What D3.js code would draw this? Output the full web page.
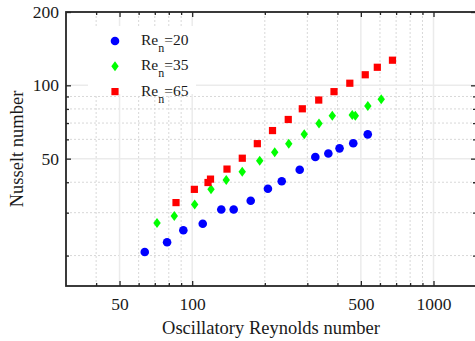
<!DOCTYPE html>
<html>
<head>
<meta charset="utf-8">
<script src="https://cdn.jsdelivr.net/npm/d3@7"></script>
<style>
  body { margin: 0; background: #fff; }
  svg { display: block; font-family: "Liberation Serif", "Times New Roman", serif; }
</style>
</head>
<body>
<div id="chart"></div>
<script>
// Données
const re20X = [63.6, 78.7, 91.9, 110.6, 132, 148.6, 174.8, 206, 235, 279, 323.8, 366.6, 408, 465, 534];
const re20Y = [20.7, 22.7, 25.4, 27.0, 30.9, 30.9, 33.6, 37.6, 40.4, 45.0, 50.8, 52.5, 55.1, 57.8, 62.9];
const re35X = [71.5, 84.3, 102.4, 119.7, 138.4, 161.2, 190.5, 219.8, 251.3, 291.3, 335.4, 380.7, 460.5, 474.3, 534.4, 607.2];
const re35Y = [27.2, 29.1, 32.4, 37.4, 40.9, 44.2, 49.0, 53.1, 57.6, 62.9, 69.7, 75.0, 75.5, 75.0, 82.2, 87.6];
const re65X = [85.7, 102.1, 116.3, 119.1, 139.4, 161.3, 186.2, 215.2, 250.1, 286, 334.5, 387, 450, 521.4, 585, 676];
const re65Y = [33.0, 37.4, 39.9, 41.2, 45.3, 50.2, 57.6, 65.2, 72.4, 80.1, 87.0, 94.2, 102, 110.5, 118.6, 126.8];

const legendValues = ["20", "35", "65"];
const xMajorTicks = [50, 100, 500, 1000];
const xMinorTicks = [40, 60, 70, 80, 90, 200, 300, 400, 600, 700, 800, 900];
const yMajorTicks = [50, 100, 200];
const yMinorTicks = [20, 30, 40, 60, 70, 80, 90];

const width = 475, height = 341;
const plotLeft = 66, plotRight = 476, plotTop = 12, plotBottom = 286;

const svg = d3.select("#chart").append("svg")
  .attr("width", width)
  .attr("height", height);

const x = d3.scaleLog().domain([30, 1500]).range([plotLeft, plotRight]);
const y = d3.scaleLog().domain([15, 200]).range([plotBottom, plotTop]);

const frameColor = "#262626";

// grille mineure en pointillés
const grid = svg.append("g");
grid.selectAll(".vminor").data(xMinorTicks).join("line")
  .attr("x1", d => x(d)).attr("x2", d => x(d))
  .attr("y1", plotTop).attr("y2", plotBottom)
  .attr("stroke", "#d8d8d8").attr("stroke-width", 1)
  .attr("stroke-dasharray", "2,2");
grid.selectAll(".hminor").data(yMinorTicks).join("line")
  .attr("y1", d => y(d)).attr("y2", d => y(d))
  .attr("x1", plotLeft).attr("x2", plotRight)
  .attr("stroke", "#d8d8d8").attr("stroke-width", 1)
  .attr("stroke-dasharray", "2,2");

// grille majeure
grid.selectAll(".vmajor").data(xMajorTicks).join("line")
  .attr("x1", d => x(d)).attr("x2", d => x(d))
  .attr("y1", plotTop).attr("y2", plotBottom)
  .attr("stroke", "#ebebeb").attr("stroke-width", 1.5);
grid.selectAll(".hmajor").data(yMajorTicks).join("line")
  .attr("y1", d => y(d)).attr("y2", d => y(d))
  .attr("x1", plotLeft).attr("x2", plotRight)
  .attr("stroke", "#ebebeb").attr("stroke-width", 1.5);

// fond blanc de la légende
svg.append("rect")
  .attr("x", 88).attr("y", 26)
  .attr("width", 108).attr("height", 68)
  .attr("fill", "#fff");

// axes (ticks vers l'intérieur)
function styleAxis(g) {
  g.select(".domain").remove();
  g.selectAll(".tick line").attr("stroke", frameColor).attr("stroke-width", 1.3);
  g.selectAll(".tick text")
    .attr("fill", "#1a1a1a")
    .style("font-size", "17.5px")
    .style("font-family", "Liberation Serif, serif");
}

svg.append("g").attr("transform", `translate(0,${plotBottom})`)
  .call(d3.axisBottom(x).tickValues(xMajorTicks).tickFormat(d3.format("d")).tickSize(-5).tickPadding(12))
  .call(styleAxis);
svg.append("g").attr("transform", `translate(0,${plotBottom})`)
  .call(d3.axisBottom(x).tickValues(xMinorTicks).tickFormat("").tickSize(-3))
  .call(styleAxis);
svg.append("g").attr("transform", `translate(0,${plotTop})`)
  .call(d3.axisTop(x).tickValues(xMajorTicks).tickFormat("").tickSize(-5))
  .call(styleAxis);
svg.append("g").attr("transform", `translate(0,${plotTop})`)
  .call(d3.axisTop(x).tickValues(xMinorTicks).tickFormat("").tickSize(-3))
  .call(styleAxis);

svg.append("g").attr("transform", `translate(${plotLeft},0)`)
  .call(d3.axisLeft(y).tickValues(yMajorTicks).tickFormat(d3.format("d")).tickSize(-5).tickPadding(7))
  .call(styleAxis);
svg.append("g").attr("transform", `translate(${plotLeft},0)`)
  .call(d3.axisLeft(y).tickValues(yMinorTicks).tickFormat("").tickSize(-3))
  .call(styleAxis);
svg.append("g").attr("transform", `translate(${plotRight},0)`)
  .call(d3.axisRight(y).tickValues(yMajorTicks).tickFormat("").tickSize(-5))
  .call(styleAxis);
svg.append("g").attr("transform", `translate(${plotRight},0)`)
  .call(d3.axisRight(y).tickValues(yMinorTicks).tickFormat("").tickSize(-3))
  .call(styleAxis);

// cadre
svg.append("rect")
  .attr("x", plotLeft).attr("y", plotTop)
  .attr("width", plotRight - plotLeft).attr("height", plotBottom - plotTop)
  .attr("fill", "none")
  .attr("stroke", frameColor)
  .attr("stroke-width", 1.8);

// symboles
const diamond = "M0,-5L3.7,0L0,5L-3.7,0Z";
const circle = d3.symbol(d3.symbolCircle, 58)();
const square = d3.symbol(d3.symbolSquare, 52)();

const series = [
  { xs: re20X, ys: re20Y, color: "#0000ff", path: circle },
  { xs: re35X, ys: re35Y, color: "#00ff00", path: diamond },
  { xs: re65X, ys: re65Y, color: "#ff0000", path: square }
];

series.forEach(s => {
  svg.append("g").selectAll("path")
    .data(s.xs.map((v, i) => [v, s.ys[i]]))
    .join("path")
    .attr("d", s.path)
    .attr("transform", d => `translate(${x(d[0])},${y(d[1])})`)
    .attr("fill", s.color);
});

// légende
const legend = svg.append("g");
series.forEach((s, i) => {
  const ly = 41 + i * 25.3;
  legend.append("path")
    .attr("d", s.path)
    .attr("transform", `translate(115,${ly})`)
    .attr("fill", s.color);
  const t = legend.append("text")
    .attr("x", 141).attr("y", ly + 4)
    .attr("fill", "#1a1a1a")
    .style("font-size", "15.5px");
  t.append("tspan").text("Re");
  t.append("tspan").attr("dy", 7).style("font-size", "12px").text("n");
  t.append("tspan").attr("dy", -7).text("=" + legendValues[i]);
});

// titres des axes
svg.append("text")
  .attr("x", (plotLeft + plotRight) / 2)
  .attr("y", 334)
  .attr("text-anchor", "middle")
  .attr("fill", "#1a1a1a")
  .style("font-size", "18.5px")
  .text("Oscillatory Reynolds number");

svg.append("text")
  .attr("transform", `translate(23,${(plotTop + plotBottom) / 2}) rotate(-90)`)
  .attr("text-anchor", "middle")
  .attr("fill", "#1a1a1a")
  .style("font-size", "18.5px")
  .text("Nusselt number");
</script>
</body>
</html>
